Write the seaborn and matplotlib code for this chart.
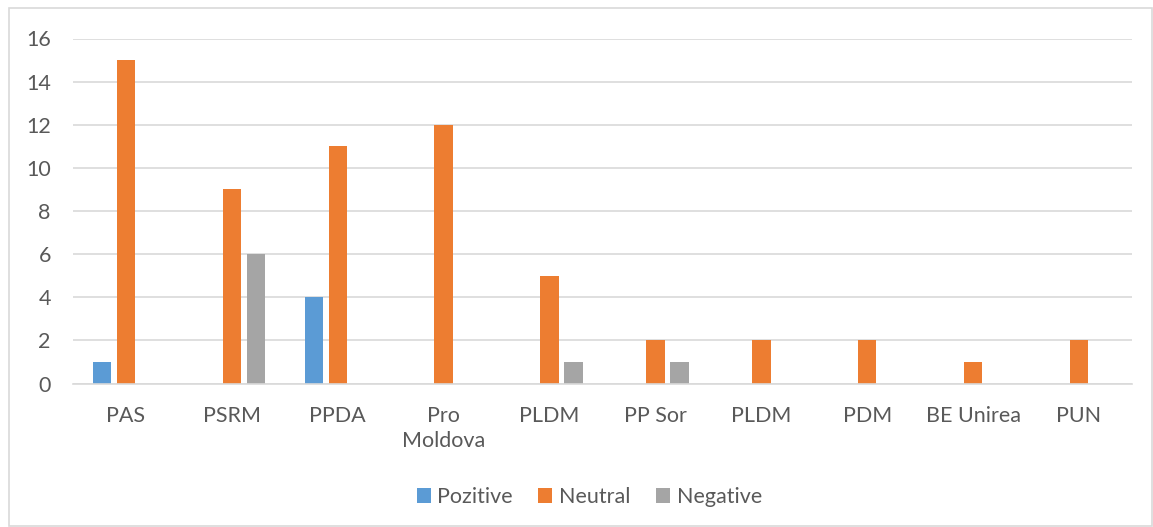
import matplotlib
matplotlib.use("Agg")
import matplotlib.pyplot as plt
import seaborn as sns
import pandas as pd
from matplotlib.patches import Rectangle, Patch

categories = ["PAS", "PSRM", "PPDA", "Pro\nMoldova", "PLDM", "PP Sor", "PLDM", "PDM", "BE Unirea", "PUN"]
pozitive = [1, 0, 4, 0, 0, 0, 0, 0, 0, 0]
neutral = [15, 9, 11, 12, 5, 2, 2, 2, 1, 2]
negative = [0, 6, 0, 0, 1, 1, 0, 0, 0, 0]
series_names = ["Pozitive", "Neutral", "Negative"]
colors = ["#5B9BD5", "#ED7D31", "#A5A5A5"]

rows = []
for i in range(len(categories)):
    for name, vals in zip(series_names, [pozitive, neutral, negative]):
        rows.append({"pos": i, "series": name, "value": vals[i]})
df = pd.DataFrame(rows)

sns.set_theme(style="white")
plt.rcParams['font.family'] = ['Lato', 'DejaVu Sans']
text_color = "#595959"
grid_color = "#D9D9D9"
fs = 15.5

fig = plt.figure(figsize=(11.53, 5.27), dpi=100)
ax = fig.add_axes([73/1153, 1 - 383.5/527, (1132-73)/1153, (383.5-38.5)/527])

sns.barplot(data=df, x="pos", y="value", hue="series", hue_order=series_names,
            palette=colors, width=0.68, gap=0.23, ax=ax, legend=False,
            saturation=1, errorbar=None, edgecolor="none")

ax.set_ylim(0, 16)
ax.set_xlim(-0.5, len(categories) - 0.5)
ax.set_yticks(range(0, 17, 2))
ax.set_xticks(range(len(categories)))
ax.set_xticklabels(categories, fontsize=fs, color=text_color, linespacing=1.3)
ax.tick_params(axis="y", labelsize=fs, labelcolor=text_color, length=0, pad=16)
ax.tick_params(axis="x", length=0, pad=16)
ax.set_xlabel("")
ax.set_ylabel("")
ax.yaxis.grid(True, color=grid_color, linewidth=1.2)
ax.set_axisbelow(True)
for s in ["top", "right", "left"]:
    ax.spines[s].set_visible(False)
ax.spines["bottom"].set_color(grid_color)
ax.spines["bottom"].set_linewidth(1.2)

handles = [Patch(facecolor=c, edgecolor="none") for c in colors]
fig.legend(handles, series_names, loc="center", bbox_to_anchor=(0.511, 1 - 497/527),
           ncol=3, frameon=False, fontsize=fs, labelcolor=text_color,
           handlelength=0.65, handleheight=0.65, handletextpad=0.3, columnspacing=1.2)

fig.patches.append(Rectangle((9/1153, 1/527), (1152-9)/1153, (518)/527,
                             transform=fig.transFigure, fill=False,
                             edgecolor=grid_color, linewidth=1.2))

fig.savefig("out.png", dpi=100)
